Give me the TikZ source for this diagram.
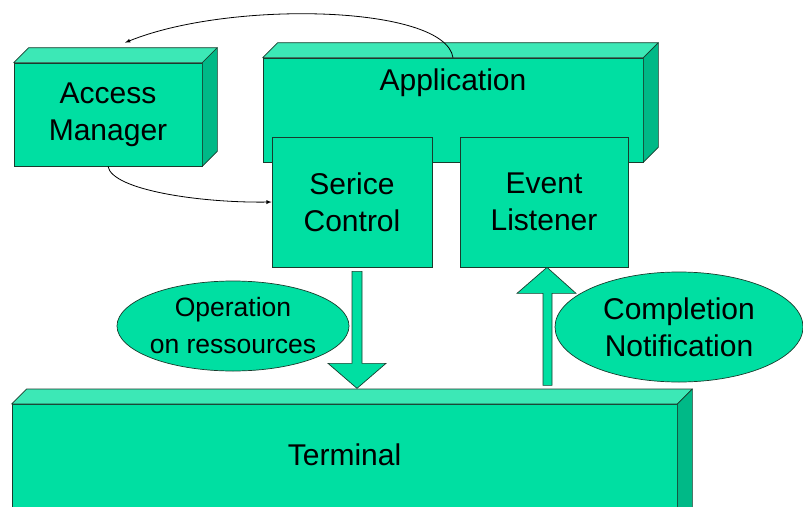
\documentclass[tikz,border=0pt]{standalone}
\usepackage{fontspec}
\setmainfont{Liberation Sans}
\usepackage{xcolor}
\usetikzlibrary{shapes.geometric, positioning, arrows, calc}

\definecolor{boxfront}{RGB}{0,223,162}
\definecolor{boxtop}{RGB}{60,232,182}
\definecolor{boxside}{RGB}{0,185,135}
\definecolor{boxline}{RGB}{25,60,45}

\newcommand{\boxdepth}[1]{%
\filldraw [boxline, fill=boxtop, line width=0.7pt, line join=round] (#1.north west) -- ++(15,-15) -- ($(#1.north east)+(15,-15)$) -- (#1.north east) -- cycle;
\filldraw [boxline, fill=boxside, line width=0.7pt, line join=round] (#1.north east) -- ++(15,-15) -- ($(#1.south east)+(15,-15)$) -- (#1.south east) -- cycle;
}

\begin{document}
\begin{tikzpicture}[x=1pt,y=-1pt]
\tikzstyle{every node}+=[inner sep=0pt, font=\fontsize{30}{37}\selectfont]
\tikzstyle{box}=[draw=boxline, fill=boxfront, line width=0.7pt, align=center]
\tikzstyle{oval}=[ellipse, draw=boxline, fill=boxfront, line width=0.7pt, align=center, inner xsep=-25pt, inner ysep=-20pt]
\tikzstyle{blockarrow}=[draw=boxline, fill=boxfront, line width=0.7pt]
\tikzstyle{link}=[black, line width=0.8pt, -latex]
\clip (0,0) rectangle (803,506);
\useasboundingbox (0,0) rectangle (803,506);
\node [box, minimum width=188pt, minimum height=103pt] (access) at (108,114.5) {Access\\Manager};
\boxdepth{access}
\node [box, minimum width=380pt, minimum height=104pt] (app) at (453,110) {};
\boxdepth{app}
\node (applabel) at (453,83) {Application};
\node [box, minimum width=160pt, minimum height=130pt] (srv) at (352,202) {Serice\\Control};
\node [box, minimum width=168pt, minimum height=130pt] (evt) at (544,202) {Event\\Listener};
\node [box, minimum width=665pt, minimum height=120pt, anchor=north] (term) at (344.5,404) {};
\boxdepth{term}
\node (termlabel) at (344.5,455) {Terminal};
\node [oval, minimum width=232pt, minimum height=90pt, font=\fontsize{26.5}{37}\selectfont] (oper) at (233,326) {Operation\\on ressources};
\node [oval, minimum width=248pt, minimum height=110pt] (compl) at (679,327) {Completion\\Notification};
\filldraw [blockarrow] ($(srv.south)+(0,4)$) -- ++(10,0) -- ++(0,92) -- ++(24,0) -- ++(-29,25) -- ++(-29,-25) -- ++(24,0) -- cycle;
\filldraw [blockarrow] ($(evt.south)+(3,0)$) -- ++(29,26) -- ++(-24,0) -- ++(0,92) -- ++(-9,0) -- ++(0,-92) -- ++(-26,0) -- cycle;
\draw [link] (app.north) .. controls (445,5) and (230,0) .. ($(access.north)+(17,-20)$);
\draw [link] (access.south) .. controls (112,190) and (200,203) .. (srv.west);
\end{tikzpicture}
\end{document}
